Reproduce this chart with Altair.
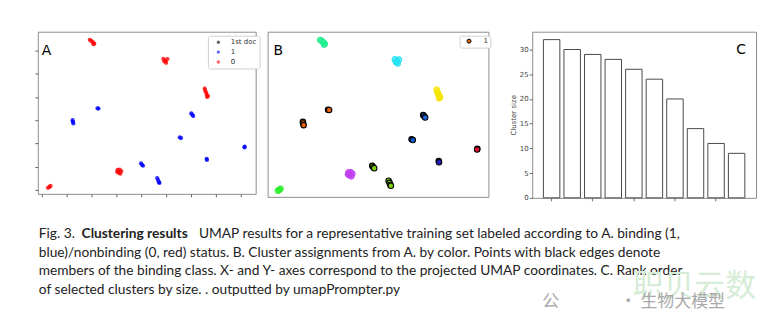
import altair as alt
import pandas as pd

# ---------------- data ----------------
# UMAP coordinates
umap_x = [1.93, 1.99, 2.05, 2.11, 2.08,
          4.89, 4.97, 5.05, 5.00, 4.93,
          6.55, 6.57, 6.61, 6.63, 6.68, 6.65,
          3.05, 3.13, 3.20, 3.09, 3.16, 3.03,
          0.25, 0.31, 0.35,
          2.24, 2.28,
          1.24, 1.25, 1.27,
          6.01, 6.05, 6.09,
          5.55, 5.60,
          8.16, 8.15,
          6.63, 6.64,
          3.99, 4.03, 4.07,
          4.64, 4.68, 4.71, 4.73]
umap_y = [6.46, 6.42, 6.36, 6.30, 6.27,
          5.64, 5.56, 5.63, 5.47, 5.53,
          4.36, 4.27, 4.19, 4.10, 4.04, 4.00,
          0.86, 0.87, 0.81, 0.74, 0.70, 0.78,
          0.09, 0.13, 0.17,
          3.51, 3.50,
          3.00, 2.93, 2.86,
          3.29, 3.24, 3.18,
          2.26, 2.23,
          1.86, 1.83,
          1.34, 1.29,
          1.14, 1.08, 1.04,
          0.51, 0.42, 0.33, 0.30]
binding = (["0"] * 5 + ["0"] * 5 + ["0"] * 6 + ["0"] * 6 + ["0"] * 3 +
           ["1"] * 2 + ["1"] * 3 + ["1"] * 3 + ["1"] * 2 + ["1"] * 2 + ["1"] * 2 +
           ["1"] * 3 + ["1"] * 4)
cluster = (["k1"] * 5 + ["k2"] * 5 + ["k3"] * 6 + ["k4"] * 6 + ["k5"] * 3 +
           ["k6"] * 2 + ["k6"] * 3 + ["k7"] * 3 + ["k8"] * 2 + ["k9"] * 2 + ["k10"] * 2 +
           ["k11"] * 3 + ["k11"] * 4)
cluster_ids = ["k1", "k2", "k3", "k4", "k5", "k6", "k7", "k8", "k9", "k10", "k11"]
cluster_colors = ["#22ee90", "#22e2f4", "#f6e400", "#c23ff2", "#2ef02e",
                  "#e8620c", "#1f66e0", "#1458cc", "#e01030", "#2020c4", "#80d010"]

class_names = ["1st doc", "1", "0"]
class_colors = ["#000000", "#0000ff", "#ff0000"]

rank = list(range(10))
cluster_size = [32, 30, 29, 28, 26, 24, 20, 14, 11, 9]

caption_lines = [
    "blue)/nonbinding (0, red) status. B. Cluster assignments from A. by color. Points with black edges denote",
    "members of the binding class. X- and Y- axes correspond to the projected UMAP coordinates. C. Rank order",
    "of selected clusters by size. .  outputted  by umapPrompter.py",
]

# ---------------- frames ----------------
df = pd.DataFrame({"x": umap_x, "y": umap_y, "label": binding, "cl": cluster})
df["leg"] = "1"
df_bind = df[df["label"] == "1"]
df_non = df[df["label"] == "0"]

FRAME = "#8c8c8c"
xs = alt.Scale(domain=[-0.16, 8.6], nice=False, zero=False)
ys = alt.Scale(domain=[-0.17, 6.81], nice=False, zero=False)


def tick_axis(vals):
    return alt.Axis(values=vals, labels=False, domain=False, grid=False, ticks=True,
                    tickSize=3, tickColor="#666", title=None)


def panel_label(t, x, y, align="left"):
    return alt.Chart(pd.DataFrame({"t": [t]})).mark_text(
        align=align, baseline="alphabetic", font="DejaVu Sans", fontSize=14, color="#000"
    ).encode(x=alt.value(x), y=alt.value(y), text="t:N")


# ---- Panel A ----
pts_A = alt.Chart(df).mark_circle(size=18, opacity=0.8).encode(
    x=alt.X("x:Q", scale=xs, axis=tick_axis(list(range(9)))),
    y=alt.Y("y:Q", scale=ys, axis=tick_axis(list(range(7)))),
    color=alt.Color("label:N",
                    scale=alt.Scale(domain=class_names, range=class_colors),
                    legend=alt.Legend(title=None, orient="none", legendX=171, legendY=4,
                                      fillColor="white", strokeColor="#d0d0d0", cornerRadius=2,
                                      padding=3, symbolOffset=4, labelOffset=9,
                                      symbolSize=12, symbolType="circle", symbolOpacity=0.6,
                                      labelFontSize=7, labelFont="DejaVu Sans", labelColor="#333",
                                      rowPadding=2)),
)
A = alt.layer(pts_A, panel_label("A", 4, 23)).properties(
    width=219, height=163, view=alt.ViewBackground(stroke=FRAME, strokeWidth=1)
)

# ---- Panel B ----
fillB = alt.Fill("cl:N", scale=alt.Scale(domain=cluster_ids, range=cluster_colors), legend=None)
strokeB = alt.Stroke("cl:N", scale=alt.Scale(domain=cluster_ids, range=cluster_colors), legend=None)
pts_Bn = alt.Chart(df_non).mark_circle(size=34, fillOpacity=0.7, strokeWidth=1).encode(
    x=alt.X("x:Q", scale=xs, axis=None),
    y=alt.Y("y:Q", scale=ys, axis=None),
    fill=fillB,
    stroke=strokeB,
)
pts_Bb = alt.Chart(df_bind).mark_point(size=30, filled=True, opacity=1, stroke="#000000",
                                       strokeWidth=1.1).encode(
    x=alt.X("x:Q", scale=xs, axis=None),
    y=alt.Y("y:Q", scale=ys, axis=None),
    fill=fillB,
    shape=alt.Shape("leg:N", scale=alt.Scale(domain=["1"], range=["circle"]),
                    legend=alt.Legend(title=None, orient="none", legendX=193, legendY=4,
                                      fillColor="white", strokeColor="#d0d0d0", cornerRadius=2,
                                      padding=2, symbolOffset=4, labelOffset=11,
                                      symbolSize=16, symbolFillColor="#e8620c",
                                      symbolStrokeColor="#000000", symbolStrokeWidth=1,
                                      labelFontSize=7, labelFont="DejaVu Sans", labelColor="#333")),
)
B = alt.layer(pts_Bn, pts_Bb, panel_label("B", 6, 23)).properties(
    width=222, height=166, view=alt.ViewBackground(stroke=FRAME, strokeWidth=1)
)

# ---- Panel C ----
dfc = pd.DataFrame({"rank": rank, "size": cluster_size})
bars = alt.Chart(dfc).mark_bar(fill="white", stroke="#4a4a4a", strokeWidth=1).encode(
    x=alt.X("rank:O", scale=alt.Scale(paddingInner=0.2, paddingOuter=0.545),
            axis=alt.Axis(values=[0, 2, 4, 6, 8], labels=False, domain=False, grid=False,
                          tickSize=3, tickColor="#666", title=None)),
    y=alt.Y("size:Q", scale=alt.Scale(domain=[0, 33.6], nice=False),
            axis=alt.Axis(values=[0, 5, 10, 15, 20, 25, 30], domain=False, grid=False,
                          tickSize=3, tickColor="#666", labelFontSize=7, labelFont="DejaVu Sans",
                          labelColor="#444", labelPadding=1, title="Cluster size",
                          titleFontSize=7, titleFont="DejaVu Sans", titleFontWeight="normal",
                          titleColor="#444", titlePadding=3)),
)
C = alt.layer(bars, panel_label("C", 215, 22, align="right")).properties(
    width=225, height=167, view=alt.ViewBackground(stroke=FRAME, strokeWidth=1)
)

inner = alt.hconcat(A, B, spacing=6).resolve_scale(
    color="independent", fill="independent", stroke="independent", shape="independent"
).resolve_legend(color="independent", fill="independent", stroke="independent", shape="independent")
row = alt.hconcat(inner, C, spacing=17).resolve_scale(
    color="independent", fill="independent", stroke="independent", shape="independent"
).resolve_legend(color="independent", fill="independent", stroke="independent", shape="independent")

# ---- Caption ----
CAP_FONT = "Lato"
CAP_SIZE = 13.8
CAP_COLOR = "#222"


def cap_text(t, x, y, weight="normal", font=CAP_FONT, size=CAP_SIZE, color=CAP_COLOR):
    return alt.Chart(pd.DataFrame({"t": [t]})).mark_text(
        align="left", baseline="alphabetic", font=font, fontSize=size,
        fontWeight=weight, color=color
    ).encode(x=alt.value(x), y=alt.value(y), text="t:N")


cap_layers = [
    cap_text("Fig. 3.", 1, 31),
    cap_text("Clustering results", 44, 31, weight="bold"),
    cap_text("UMAP results for a representative training set labeled according to A. binding (1,", 162, 31),
]
for i, line in enumerate(caption_lines):
    cap_layers.append(cap_text(line, 1, 50 + 19 * i))
# watermark
cap_layers.append(cap_text("职贝云数", 598, 90, font="Noto Sans CJK SC", size=31, color="#d6ecd6"))
cap_layers.append(cap_text("公", 507, 101, font="Noto Sans CJK SC", size=17, color="#a8a8a8"))
cap_layers.append(cap_text("· 生物大模型", 585, 101, font="Noto Sans CJK SC", size=17, color="#a8a8a8"))

cap = alt.layer(*cap_layers).properties(width=729, height=127)

chart = alt.vconcat(row, cap, spacing=5).properties(
    padding={"left": 34, "top": 30, "right": 0, "bottom": 0},
    background="white",
).resolve_scale(
    color="independent", fill="independent", stroke="independent", shape="independent"
).resolve_legend(
    color="independent", fill="independent", stroke="independent", shape="independent"
).configure_view(stroke=None)

chart.save("out.html", embed_options={"renderer": "svg", "actions": False})
